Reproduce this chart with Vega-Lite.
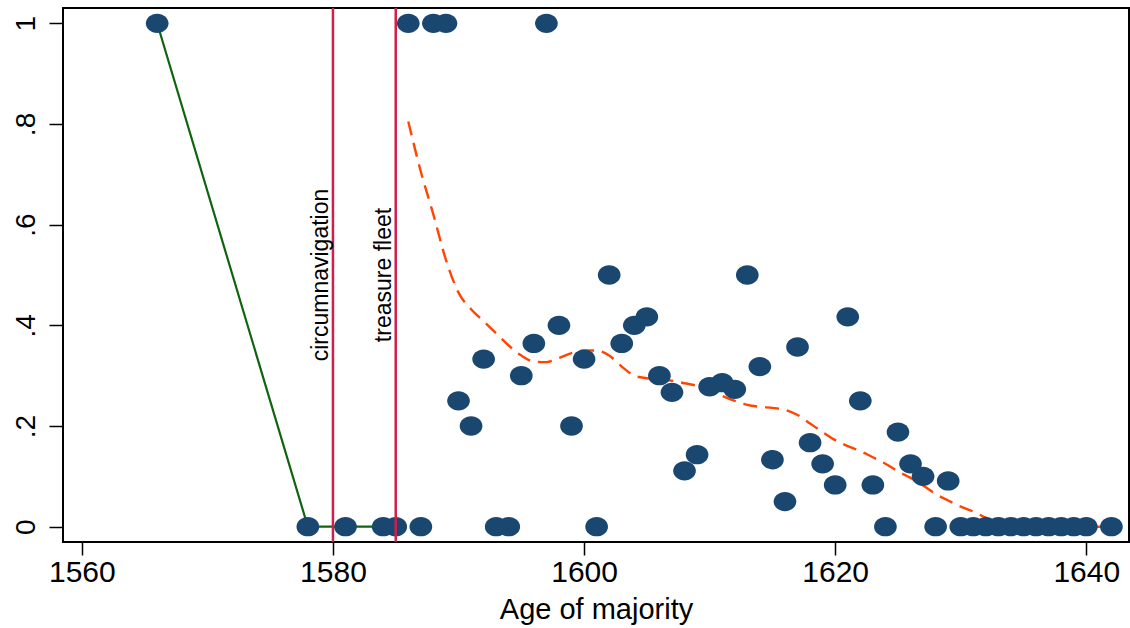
{
  "$schema": "https://vega.github.io/schema/vega-lite/v6.json",
  "width": 1066,
  "height": 534,
  "autosize": {"type": "none"},
  "padding": {"left": 63, "top": 8, "right": 1, "bottom": 86},
  "background": "white",
  "config": {
    "view": {"stroke": "black", "strokeWidth": 2},
    "font": "Liberation Sans",
    "axis": {"grid": false, "domain": false, "tickColor": "black", "tickWidth": 1.5, "labelColor": "black", "titleColor": "black", "labelFont": "Liberation Sans", "titleFont": "Liberation Sans", "titleFontWeight": "normal"}
  },
  "datasets": {
    "pts": [
      {"year": 1566, "share": 1},
      {"year": 1578, "share": 0},
      {"year": 1581, "share": 0},
      {"year": 1584, "share": 0},
      {"year": 1585, "share": 0},
      {"year": 1586, "share": 1},
      {"year": 1587, "share": 0},
      {"year": 1588, "share": 1},
      {"year": 1589, "share": 1},
      {"year": 1590, "share": 0.25},
      {"year": 1591, "share": 0.2},
      {"year": 1592, "share": 0.333},
      {"year": 1593, "share": 0},
      {"year": 1594, "share": 0},
      {"year": 1595, "share": 0.3},
      {"year": 1596, "share": 0.364},
      {"year": 1597, "share": 1},
      {"year": 1598, "share": 0.4},
      {"year": 1599, "share": 0.2},
      {"year": 1600, "share": 0.333},
      {"year": 1601, "share": 0},
      {"year": 1602, "share": 0.5},
      {"year": 1603, "share": 0.364},
      {"year": 1604, "share": 0.4},
      {"year": 1605, "share": 0.417},
      {"year": 1606, "share": 0.3},
      {"year": 1607, "share": 0.267},
      {"year": 1608, "share": 0.111},
      {"year": 1609, "share": 0.143},
      {"year": 1610, "share": 0.278},
      {"year": 1611, "share": 0.286},
      {"year": 1612, "share": 0.273},
      {"year": 1613, "share": 0.5},
      {"year": 1614, "share": 0.318},
      {"year": 1615, "share": 0.133},
      {"year": 1616, "share": 0.05},
      {"year": 1617, "share": 0.357},
      {"year": 1618, "share": 0.167},
      {"year": 1619, "share": 0.125},
      {"year": 1620, "share": 0.083},
      {"year": 1621, "share": 0.417},
      {"year": 1622, "share": 0.25},
      {"year": 1623, "share": 0.083},
      {"year": 1624, "share": 0},
      {"year": 1625, "share": 0.188},
      {"year": 1626, "share": 0.125},
      {"year": 1627, "share": 0.1},
      {"year": 1628, "share": 0},
      {"year": 1629, "share": 0.091},
      {"year": 1630, "share": 0},
      {"year": 1631, "share": 0},
      {"year": 1632, "share": 0},
      {"year": 1633, "share": 0},
      {"year": 1634, "share": 0},
      {"year": 1635, "share": 0},
      {"year": 1636, "share": 0},
      {"year": 1637, "share": 0},
      {"year": 1638, "share": 0},
      {"year": 1639, "share": 0},
      {"year": 1640, "share": 0},
      {"year": 1642, "share": 0}
    ],
    "smooth": [
      {"year": 1586, "fit": 0.805},
      {"year": 1587, "fit": 0.705},
      {"year": 1588, "fit": 0.62},
      {"year": 1589, "fit": 0.53},
      {"year": 1590, "fit": 0.465},
      {"year": 1591, "fit": 0.432},
      {"year": 1592, "fit": 0.408},
      {"year": 1593, "fit": 0.384},
      {"year": 1594, "fit": 0.36},
      {"year": 1595, "fit": 0.34},
      {"year": 1596, "fit": 0.328},
      {"year": 1597, "fit": 0.327},
      {"year": 1598, "fit": 0.335},
      {"year": 1599, "fit": 0.345},
      {"year": 1600, "fit": 0.35},
      {"year": 1601, "fit": 0.35},
      {"year": 1602, "fit": 0.34},
      {"year": 1603, "fit": 0.318},
      {"year": 1604, "fit": 0.3},
      {"year": 1605, "fit": 0.295},
      {"year": 1606, "fit": 0.292},
      {"year": 1607, "fit": 0.29},
      {"year": 1608, "fit": 0.285},
      {"year": 1609, "fit": 0.28},
      {"year": 1610, "fit": 0.272},
      {"year": 1611, "fit": 0.26},
      {"year": 1612, "fit": 0.25},
      {"year": 1613, "fit": 0.242},
      {"year": 1614, "fit": 0.238},
      {"year": 1615, "fit": 0.236},
      {"year": 1616, "fit": 0.232},
      {"year": 1617, "fit": 0.222},
      {"year": 1618, "fit": 0.205},
      {"year": 1619, "fit": 0.188},
      {"year": 1620, "fit": 0.172},
      {"year": 1621, "fit": 0.16},
      {"year": 1622, "fit": 0.15},
      {"year": 1623, "fit": 0.138},
      {"year": 1624, "fit": 0.125},
      {"year": 1625, "fit": 0.11},
      {"year": 1626, "fit": 0.097},
      {"year": 1627, "fit": 0.082},
      {"year": 1628, "fit": 0.065},
      {"year": 1629, "fit": 0.052},
      {"year": 1630, "fit": 0.04},
      {"year": 1631, "fit": 0.03},
      {"year": 1632, "fit": 0.018},
      {"year": 1633, "fit": 0.008},
      {"year": 1634, "fit": 0.004},
      {"year": 1636, "fit": 0.002},
      {"year": 1638, "fit": 0.001},
      {"year": 1640, "fit": 0},
      {"year": 1642, "fit": 0}
    ],
    "events": [
      {"year": 1580, "label": "circumnavigation"},
      {"year": 1585, "label": "treasure fleet"}
    ]
  },
  "layer": [
    {
      "data": {"name": "pts"},
      "transform": [{"filter": {"field": "year", "lte": 1585}}],
      "mark": {"type": "line", "color": "#0f640f", "strokeWidth": 2.2},
      "encoding": {
        "x": {"field": "year", "type": "quantitative", "scale": {"domain": [1558.5, 1643.4], "nice": false, "zero": false},
          "axis": {"values": [1560, 1580, 1600, 1620, 1640], "format": "d", "title": "Age of majority", "labelFontSize": 30, "titleFontSize": 29, "tickSize": 13, "labelPadding": 2, "titlePadding": 8}},
        "y": {"field": "share", "type": "quantitative", "scale": {"domain": [-0.0304, 1.0304], "nice": false, "zero": false},
          "axis": {"values": [0, 0.2, 0.4, 0.6, 0.8, 1], "title": null, "labelFontSize": 28, "labelAngle": -90, "labelAlign": "center", "labelBaseline": "bottom", "tickSize": 14, "labelPadding": 9,
            "labelExpr": "datum.value == 0 ? '0' : datum.value == 1 ? '1' : replace(format(datum.value, '.1f'), '0.', '.')"}}
      }
    },
    {
      "data": {"name": "smooth"},
      "mark": {"type": "line", "color": "#ff4500", "strokeWidth": 2.4, "strokeDash": [14, 8], "interpolate": "monotone"},
      "encoding": {
        "x": {"field": "year", "type": "quantitative"},
        "y": {"field": "fit", "type": "quantitative"}
      }
    },
    {
      "data": {"name": "pts"},
      "mark": {"type": "point", "filled": true, "opacity": 1, "color": "#1a476f", "size": 515,
        "shape": "M -1 0 A 1 0.85 0 1 1 1 0 A 1 0.85 0 1 1 -1 0 Z"},
      "encoding": {
        "x": {"field": "year", "type": "quantitative"},
        "y": {"field": "share", "type": "quantitative"}
      }
    },
    {
      "data": {"name": "events"},
      "mark": {"type": "rule", "color": "#cf1f4a", "strokeWidth": 2.5},
      "encoding": {
        "x": {"field": "year", "type": "quantitative"}
      }
    },
    {
      "data": {"name": "events"},
      "mark": {"type": "text", "angle": 270, "align": "center", "baseline": "bottom", "fontSize": 23, "color": "black", "font": "Liberation Sans"},
      "encoding": {
        "x": {"field": "year", "type": "quantitative"},
        "y": {"datum": 0.5},
        "text": {"field": "label"}
      }
    }
  ]
}
